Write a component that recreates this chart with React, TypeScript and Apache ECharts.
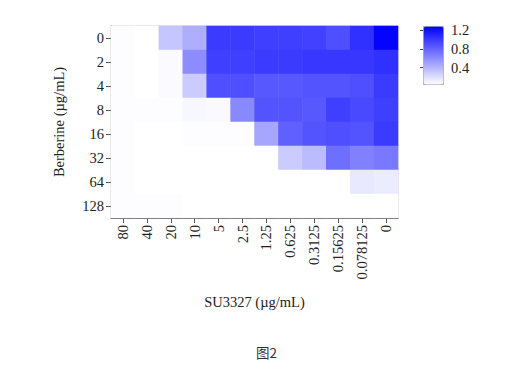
import React, { useEffect, useRef } from "react";
import * as echarts from "echarts";

const su3327 = ["80", "40", "20", "10", "5", "2.5", "1.25", "0.625", "0.3125", "0.15625", "0.078125", "0"];
const berberine = ["0", "2", "4", "8", "16", "32", "64", "128"];
// rows follow berberine order, columns follow su3327 order
const row0 = [0.06, 0.05, 0.33, 0.44, 1.0, 1.0, 0.98, 0.98, 0.97, 0.9, 1.05, 1.27];
const row2 = [0.06, 0.05, 0.07, 0.6, 0.98, 0.98, 1.0, 1.0, 1.02, 1.02, 1.02, 1.05];
const row4 = [0.06, 0.05, 0.07, 0.3, 0.9, 0.9, 0.86, 0.86, 0.88, 0.88, 0.9, 1.0];
const row8 = [0.06, 0.06, 0.06, 0.09, 0.08, 0.62, 0.88, 0.88, 0.86, 0.98, 0.93, 0.98];
const row16 = [0.06, 0.05, 0.05, 0.06, 0.06, 0.06, 0.48, 0.82, 0.88, 0.9, 0.88, 1.0];
const row32 = [0.06, 0.05, 0.05, 0.05, 0.05, 0.05, 0.05, 0.3, 0.38, 0.75, 0.66, 0.7];
const row64 = [0.06, 0.05, 0.05, 0.05, 0.05, 0.05, 0.05, 0.05, 0.05, 0.05, 0.16, 0.14];
const row128 = [0.06, 0.06, 0.06, 0.05, 0.05, 0.05, 0.05, 0.05, 0.05, 0.05, 0.05, 0.05];
const rows = [row0, row2, row4, row8, row16, row32, row64, row128];
const colorTicks = [0.4, 0.8, 1.2];
const scaleMin = 0.05;
const scaleMax = 1.285;

const FONT = "'Liberation Serif', 'Times New Roman', serif";
const FS = 14.5;

export default function App() {
  const ref = useRef<HTMLDivElement>(null);
  useEffect(() => {
    if (!ref.current) return;
    const chart = echarts.init(ref.current, null, { renderer: "svg" });
    const data: [number, number, number][] = [];
    rows.forEach((r, yi) => r.forEach((v, xi) => data.push([xi, yi, v])));
    chart.setOption({
      animation: false,
      backgroundColor: "#ffffff",
      textStyle: { fontFamily: FONT },
      title: {
        text: "图2",
        left: 251,
        top: 340,
        textStyle: {
          fontFamily: "'Noto Sans CJK SC', " + FONT,
          fontSize: 13.5,
          fontWeight: "normal",
          color: "#333",
        },
      },
      grid: [
        { left: 111, top: 26, width: 287, height: 192, show: true, borderColor: "#c8c8c8", borderWidth: 1, backgroundColor: "transparent" },
        { left: 423, top: 26, width: 20, height: 58, show: false },
      ],
      xAxis: [
        {
          type: "category",
          gridIndex: 0,
          data: su3327,
          name: "SU3327 (µg/mL)",
          nameLocation: "middle",
          nameGap: 76,
          nameTextStyle: { fontFamily: FONT, fontSize: FS, color: "#222" },
          axisLine: { show: true, lineStyle: { color: "#555" } },
          axisTick: { show: true, alignWithLabel: true, length: 5, lineStyle: { color: "#555" } },
          axisLabel: { rotate: 90, fontFamily: FONT, fontSize: FS, color: "#222", margin: 7, interval: 0 },
          splitLine: { show: false },
        },
        { type: "value", gridIndex: 1, show: false, min: 0, max: 1 },
      ],
      yAxis: [
        {
          type: "category",
          gridIndex: 0,
          data: berberine,
          inverse: true,
          name: "Berberine (µg/mL)",
          nameLocation: "middle",
          nameGap: 45,
          nameTextStyle: { fontFamily: FONT, fontSize: FS, color: "#222" },
          axisLine: { show: true, lineStyle: { color: "#555" } },
          axisTick: { show: true, alignWithLabel: true, length: 5, lineStyle: { color: "#555" } },
          axisLabel: { fontFamily: FONT, fontSize: FS, color: "#222", margin: 7, interval: 0 },
          splitLine: { show: false },
        },
        {
          type: "value",
          gridIndex: 1,
          position: "right",
          min: scaleMin,
          max: scaleMax,
          axisLine: { show: false },
          axisTick: { show: true, inside: true, length: 3, customValues: colorTicks, lineStyle: { color: "#444" } },
          axisLabel: { customValues: colorTicks, fontFamily: FONT, fontSize: FS, color: "#222", margin: 8, formatter: (v: number) => String(v) },
          splitLine: { show: false },
        },
        {
          type: "value",
          gridIndex: 1,
          position: "left",
          min: scaleMin,
          max: scaleMax,
          axisLine: { show: false },
          axisTick: { show: true, inside: true, length: 3, customValues: colorTicks, lineStyle: { color: "#444" } },
          axisLabel: { show: false },
          splitLine: { show: false },
        },
      ],
      visualMap: {
        type: "continuous",
        min: scaleMin,
        max: scaleMax,
        seriesIndex: 0,
        calculable: false,
        showLabel: false,
        left: 423,
        top: 26,
        itemWidth: 20,
        itemHeight: 58,
        padding: 0,
        borderWidth: 1,
        borderColor: "#aaa",
        inRange: { color: ["#ffffff", "#0000ff"] },
      },
      series: [
        {
          type: "heatmap",
          xAxisIndex: 0,
          yAxisIndex: 0,
          data,
          itemStyle: { borderWidth: 0 },
          emphasis: { disabled: true },
        },
      ],
    });
    return () => chart.dispose();
  }, []);
  return <div ref={ref} style={{ width: 507, height: 391, position: "absolute", left: 0, top: 0 }} />;
}
